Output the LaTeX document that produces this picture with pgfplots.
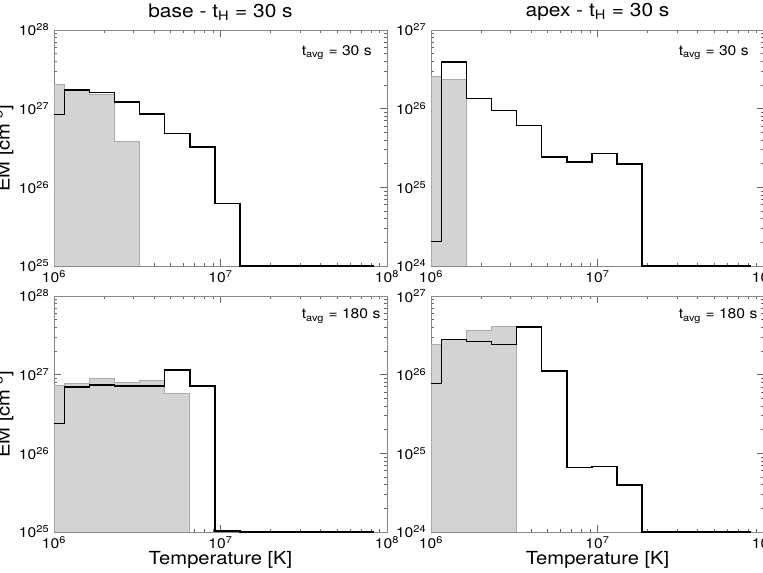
\documentclass[border=0pt]{standalone}
\usepackage{fontspec}
\setmainfont{TeX Gyre Heros}[FakeStretch=1.12]
\usepackage{pgfplots}
\pgfplotsset{compat=1.18}

\definecolor{fillgray}{RGB}{211,211,211}
\definecolor{edgegray}{RGB}{170,170,170}
\definecolor{framegray}{RGB}{135,135,135}

\pgfplotsset{
  every axis/.append style={
    scale only axis,
    width=249.75pt, height=177pt,
    xmin=1e6, xmax=1e8,
    xtick={1e6,1e7,1e8},
    xticklabels={10\textsuperscript{6},10\textsuperscript{7},10\textsuperscript{8}},
    axis line style={framegray},
    tick style={black!60, line width=0.5pt},
    major tick length=5pt, minor tick length=2.5pt,
    tick label style={font=\fontsize{10.5}{12}\selectfont},
    title style={font=\fontsize{14}{16}\selectfont, yshift=-2.5pt},
    label style={font=\fontsize{13.5}{16}\selectfont},
    ylabel style={at={(axis description cs:-0.108,0.5)}, anchor=south},
    xlabel style={at={(axis description cs:0.5,0)}, anchor=north, yshift=-11pt},
    clip=false,
  },
  emLine/.style={const plot, black, line width=1.1pt},
  emFill/.style={const plot, fill=fillgray, draw=edgegray, line width=0.6pt},
}

\begin{document}
\begin{tikzpicture}
% base, t_avg = 30 s
\begin{axis}[xmode=log, ymode=log, anchor=south west, at={(40.5pt,229.5pt)},
  ymin=1e25, ymax=1e28, ytick={1e25,1e26,1e27,1e28},
  yticklabels={10\textsuperscript{25},10\textsuperscript{26},10\textsuperscript{27},10\textsuperscript{28}},
  title={base - t\textsubscript{H} = 30 s}, ylabel={EM [cm\textsuperscript{-5}]}]
\addplot[emFill] coordinates {(1e6,1e25) (1e6,2.02e27) (1.153e6,1.75e27) (1.633e6,1.5e27)
  (2.312e6,3.8e26) (3.266e6,3.8e26) (3.266e6,1e25)};
\addplot[emLine] coordinates {(1e6,8.4e26) (1.153e6,1.73e27) (1.633e6,1.6e27) (2.312e6,1.21e27)
  (3.266e6,8.5e26) (4.613e6,4.8e26) (6.546e6,3.24e26) (9.247e6,6.2e25) (1.306e7,1e25) (8.32e7,1e25)};
\node[anchor=west, font=\fontsize{10.5}{12}\selectfont] at (axis description cs:0.73,0.905) {t\textsubscript{avg} = 30 s};
\end{axis}
% apex, t_avg = 30 s
\begin{axis}[xmode=log, ymode=log, anchor=south west, at={(323.25pt,229.5pt)},
  ymin=1e24, ymax=1e27, ytick={1e24,1e25,1e26,1e27},
  yticklabels={10\textsuperscript{24},10\textsuperscript{25},10\textsuperscript{26},10\textsuperscript{27}},
  title={apex - t\textsubscript{H} = 30 s}]
\addplot[emFill] coordinates {(1e6,1e24) (1e6,2.58e26) (1.153e6,2.32e26) (1.633e6,2.32e26) (1.633e6,1e24)};
\addplot[emLine] coordinates {(1e6,2.06e24) (1.153e6,3.93e26) (1.633e6,1.35e26) (2.312e6,9.4e25)
  (3.266e6,6.1e25) (4.613e6,2.42e25) (6.546e6,2.09e25) (9.247e6,2.67e25) (1.306e7,1.99e25)
  (1.845e7,1e24) (8.32e7,1e24)};
\node[anchor=west, font=\fontsize{10.5}{12}\selectfont] at (axis description cs:0.73,0.905) {t\textsubscript{avg} = 30 s};
\end{axis}
% base, t_avg = 180 s
\begin{axis}[xmode=log, ymode=log, anchor=south west, at={(40.5pt,30pt)},
  ymin=1e25, ymax=1e28, ytick={1e25,1e26,1e27,1e28},
  yticklabels={10\textsuperscript{25},10\textsuperscript{26},10\textsuperscript{27},10\textsuperscript{28}},
  xlabel={Temperature [K]}, ylabel={EM [cm\textsuperscript{-5}]}]
\addplot[emFill] coordinates {(1e6,1e25) (1e6,7.3e26) (1.153e6,7.65e26) (1.633e6,9.0e26)
  (2.312e6,8.0e26) (3.266e6,8.5e26) (4.613e6,5.7e26) (6.546e6,5.7e26) (6.546e6,1e25)};
\addplot[emLine] coordinates {(1e6,2.39e26) (1.153e6,7.0e26) (1.633e6,7.36e26) (2.312e6,7.15e26)
  (3.266e6,7.15e26) (4.613e6,1.14e27) (6.546e6,7.2e26) (9.247e6,1.03e25) (1.306e7,1e25) (8.32e7,1e25)};
\node[anchor=west, font=\fontsize{10.5}{12}\selectfont] at (axis description cs:0.73,0.915) {t\textsubscript{avg} = 180 s};
\end{axis}
% apex, t_avg = 180 s
\begin{axis}[xmode=log, ymode=log, anchor=south west, at={(323.25pt,30pt)},
  ymin=1e24, ymax=1e27, ytick={1e24,1e25,1e26,1e27},
  yticklabels={10\textsuperscript{24},10\textsuperscript{25},10\textsuperscript{26},10\textsuperscript{27}},
  xlabel={Temperature [K]}]
\addplot[emFill] coordinates {(1e6,1e24) (1e6,2.42e26) (1.153e6,2.79e26) (1.633e6,3.6e26)
  (2.312e6,4.05e26) (3.266e6,4.05e26) (3.266e6,1e24)};
\addplot[emLine] coordinates {(1e6,7.7e25) (1.153e6,2.79e26) (1.633e6,2.64e26) (2.312e6,2.42e26)
  (3.266e6,4.05e26) (4.613e6,1.12e26) (6.546e6,6.6e24) (9.247e6,6.8e24) (1.306e7,3.98e24)
  (1.845e7,1e24) (8.32e7,1e24)};
\node[anchor=west, font=\fontsize{10.5}{12}\selectfont] at (axis description cs:0.73,0.915) {t\textsubscript{avg} = 180 s};
\end{axis}
\pgfresetboundingbox
\useasboundingbox (0,0) rectangle (572.25pt,429pt);
\end{tikzpicture}
\end{document}
